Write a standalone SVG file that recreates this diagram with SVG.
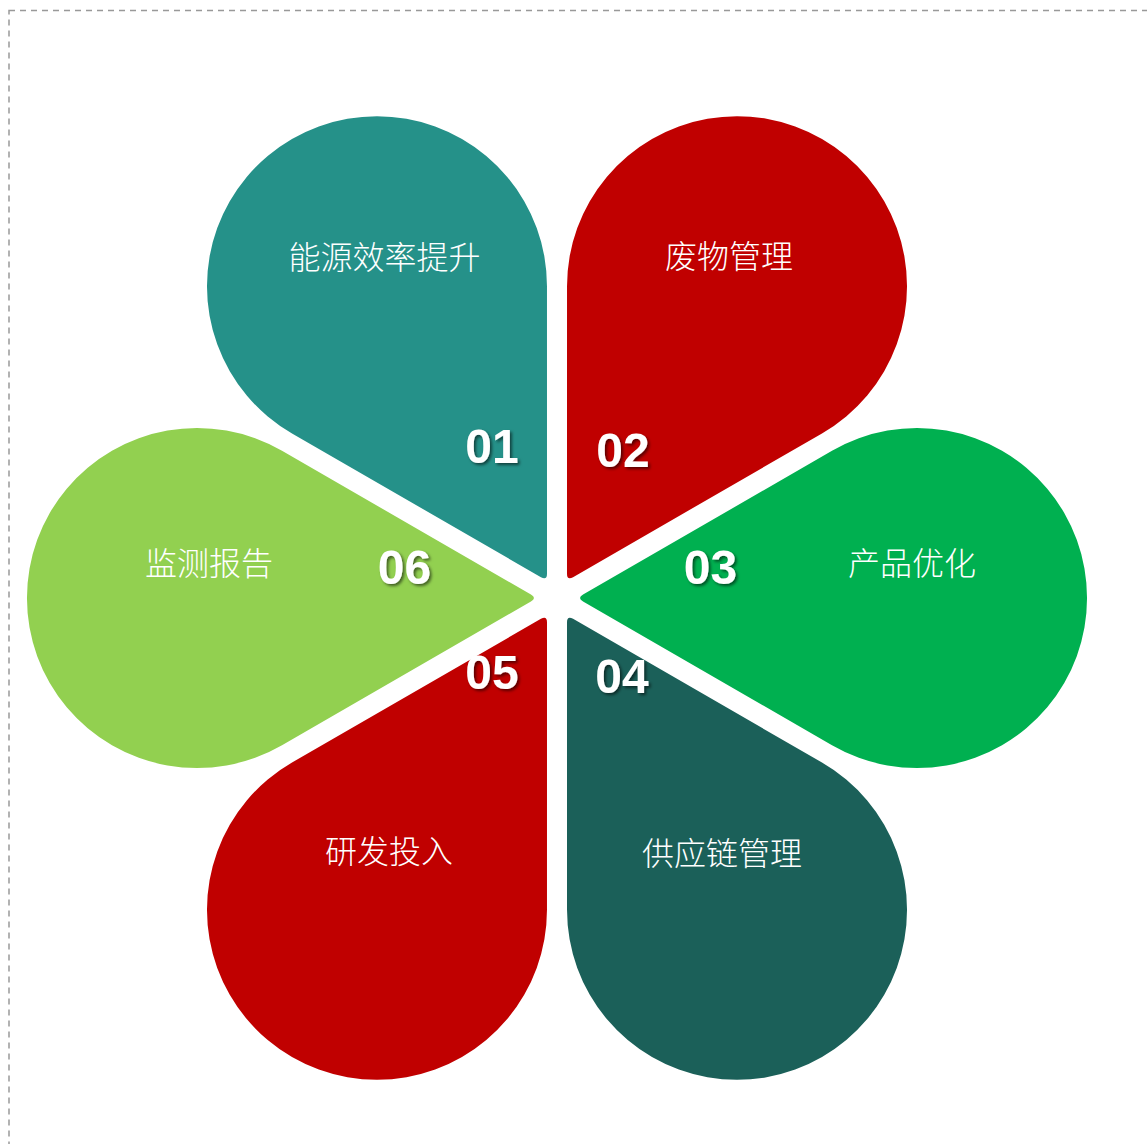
<svg xmlns="http://www.w3.org/2000/svg" xmlns:xlink="http://www.w3.org/1999/xlink" width="1147" height="1144" viewBox="0 0 1147 1144">
<style>
.lbl{font-family:"Noto Sans CJK SC","Noto Sans",sans-serif;font-size:32px;font-weight:300;fill:#ffffff;text-anchor:middle}
.num{font-family:"Liberation Sans",Arial,sans-serif;font-size:48px;font-weight:bold;fill:#ffffff;text-anchor:middle;filter:url(#sh)}
</style>
<defs>
<filter id="sh" x="-20%" y="-20%" width="150%" height="150%">
<feDropShadow dx="2" dy="2" stdDeviation="1.5" flood-color="#000000" flood-opacity="0.55"/>
</filter>
<path id="petal" d="M26.06 -3.5 L275 -147.2 A170 170 0 1 1 275 147.2 L26.06 3.5 Q20 0 26.06 -3.5 Z"/>
</defs>
<rect width="1147" height="1144" fill="#ffffff"/>
<rect x="9" y="10.5" width="1200" height="1200" fill="none" stroke="#999999" stroke-width="1.5" stroke-dasharray="6 5"/>
<g id="connectors"/>
<g id="p01">
<use xlink:href="#petal" transform="translate(557 598) rotate(-120)" fill="#259189"/>
<text class="lbl" x="384.5" y="269">能源效率提升</text>
<text class="num" x="492" y="463">01</text>
</g>
<g id="p02">
<use xlink:href="#petal" transform="translate(557 598) rotate(-60)" fill="#C00000"/>
<text class="lbl" x="729" y="268">废物管理</text>
<text class="num" x="623" y="467">02</text>
</g>
<g id="p03">
<use xlink:href="#petal" transform="translate(557 598)" fill="#00B050"/>
<text class="lbl" x="912" y="574.5">产品优化</text>
<text class="num" x="710.5" y="584">03</text>
</g>
<g id="p04">
<use xlink:href="#petal" transform="translate(557 598) rotate(60)" fill="#1B6059"/>
<text class="lbl" x="722" y="865">供应链管理</text>
<text class="num" x="622" y="693">04</text>
</g>
<g id="p05">
<use xlink:href="#petal" transform="translate(557 598) rotate(120)" fill="#C00000"/>
<text class="lbl" x="389" y="863">研发投入</text>
<text class="num" x="492" y="689">05</text>
</g>
<g id="p06">
<use xlink:href="#petal" transform="translate(557 598) rotate(180)" fill="#92D050"/>
<text class="lbl" x="209" y="574.5">监测报告</text>
<text class="num" x="404.5" y="584">06</text>
</g>
</svg>
